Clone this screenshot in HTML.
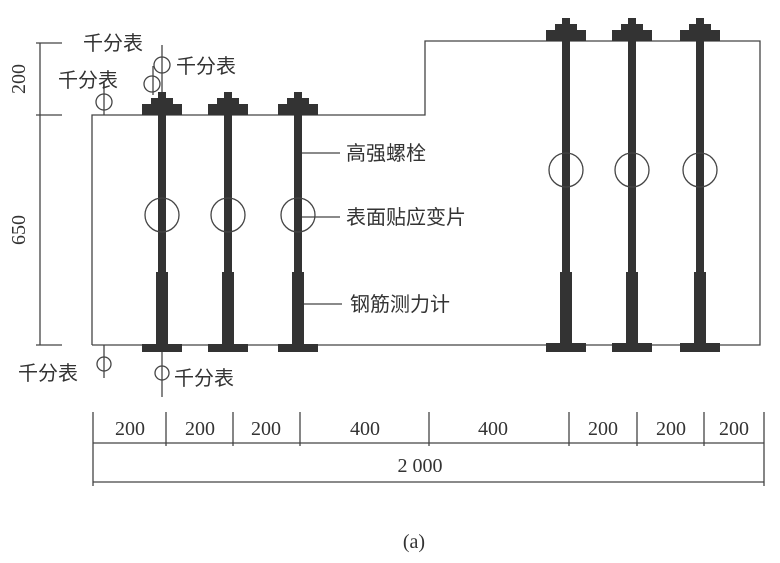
<!DOCTYPE html>
<html><head><meta charset="utf-8"><style>
html,body{margin:0;padding:0;background:#fff;}
svg{display:block;}
text{font-family:"Liberation Serif","Noto Sans CJK SC",serif;fill:#333;}
.cj{font-family:"Liberation Sans","Noto Sans CJK SC",sans-serif;font-size:20px;}
.n{font-size:20px;}
</style></head><body>
<svg width="780" height="563" viewBox="0 0 780 563">
<defs>
<g id="top">
<rect x="-4" y="-23" width="8" height="6" fill="#333"/>
<rect x="-11" y="-17" width="22" height="6" fill="#333"/>
<rect x="-20" y="-11" width="40" height="11" fill="#333"/>
</g>
<g id="bot">
<rect x="-4" y="0" width="8" height="157" fill="#333"/>
<rect x="-6" y="157" width="12" height="73" fill="#333"/>
<rect x="-20" y="229" width="40" height="8" fill="#333"/>
</g>
</defs>
<g fill="none" stroke="#444" stroke-width="1.3">
<polyline points="92,345 92,115 425,115 425,41 760,41 760,345 92,345"/>
<line x1="40" y1="43" x2="40" y2="345"/>
<line x1="36" y1="43" x2="62" y2="43"/>
<line x1="36" y1="115" x2="62" y2="115"/>
<line x1="36" y1="345" x2="62" y2="345"/>
<line x1="93" y1="443" x2="764" y2="443"/>
<line x1="93" y1="482" x2="764" y2="482"/>
<line x1="93" y1="412" x2="93" y2="486"/>
<line x1="764" y1="412" x2="764" y2="486"/>
<line x1="166" y1="412" x2="166" y2="446"/>
<line x1="233" y1="412" x2="233" y2="446"/>
<line x1="300" y1="412" x2="300" y2="446"/>
<line x1="429" y1="412" x2="429" y2="446"/>
<line x1="569" y1="412" x2="569" y2="446"/>
<line x1="637" y1="412" x2="637" y2="446"/>
<line x1="704" y1="412" x2="704" y2="446"/>
<line x1="104" y1="84" x2="104" y2="115"/><circle cx="104" cy="102" r="8"/>
<line x1="153" y1="66" x2="153" y2="95"/><circle cx="152" cy="84" r="8"/>
<line x1="162" y1="45" x2="162" y2="92"/><circle cx="162" cy="65" r="8"/>
<line x1="104" y1="345" x2="104" y2="378"/><circle cx="104" cy="364" r="7"/>
<line x1="162" y1="352" x2="162" y2="397"/><circle cx="162" cy="373" r="7"/>
<line x1="300" y1="153" x2="340" y2="153"/>
<line x1="300" y1="217" x2="340" y2="217"/>
<line x1="300" y1="304" x2="342" y2="304"/>
</g>
<use href="#top" x="162" y="115"/><use href="#bot" x="162" y="115"/>
<use href="#top" x="228" y="115"/><use href="#bot" x="228" y="115"/>
<use href="#top" x="298" y="115"/><use href="#bot" x="298" y="115"/>
<g transform="translate(0,-74)">
<use href="#top" x="566" y="115"/>
<use href="#top" x="632" y="115"/>
<use href="#top" x="700" y="115"/>
</g>
<g fill="#333">
<rect x="562" y="41" width="8" height="231"/><rect x="560" y="272" width="12" height="73"/><rect x="546" y="343" width="40" height="9"/>
<rect x="628" y="41" width="8" height="231"/><rect x="626" y="272" width="12" height="73"/><rect x="612" y="343" width="40" height="9"/>
<rect x="696" y="41" width="8" height="231"/><rect x="694" y="272" width="12" height="73"/><rect x="680" y="343" width="40" height="9"/>
</g>
<g fill="none" stroke="#444" stroke-width="1.3">
<circle cx="162" cy="215" r="17"/><circle cx="228" cy="215" r="17"/><circle cx="298" cy="215" r="17"/>
<circle cx="566" cy="170" r="17"/><circle cx="632" cy="170" r="17"/><circle cx="700" cy="170" r="17"/>
</g>
<text class="cj" x="83" y="50">千分表</text>
<text class="cj" x="58" y="87">千分表</text>
<text class="cj" x="176" y="73">千分表</text>
<text class="cj" x="18" y="380">千分表</text>
<text class="cj" x="174" y="385">千分表</text>
<text class="cj" x="346" y="160">高强螺栓</text>
<text class="cj" x="346" y="224">表面贴应变片</text>
<text class="cj" x="350" y="311">钢筋测力计</text>
<text class="n" transform="translate(25,79) rotate(-90)" text-anchor="middle">200</text>
<text class="n" transform="translate(25,230) rotate(-90)" text-anchor="middle">650</text>
<g class="n" text-anchor="middle">
<text x="130" y="435">200</text><text x="200" y="435">200</text><text x="266" y="435">200</text>
<text x="365" y="435">400</text><text x="493" y="435">400</text><text x="603" y="435">200</text>
<text x="671" y="435">200</text><text x="734" y="435">200</text>
<text x="420" y="472">2 000</text>
<text x="414" y="548">(a)</text>
</g>
</svg>
</body></html>
